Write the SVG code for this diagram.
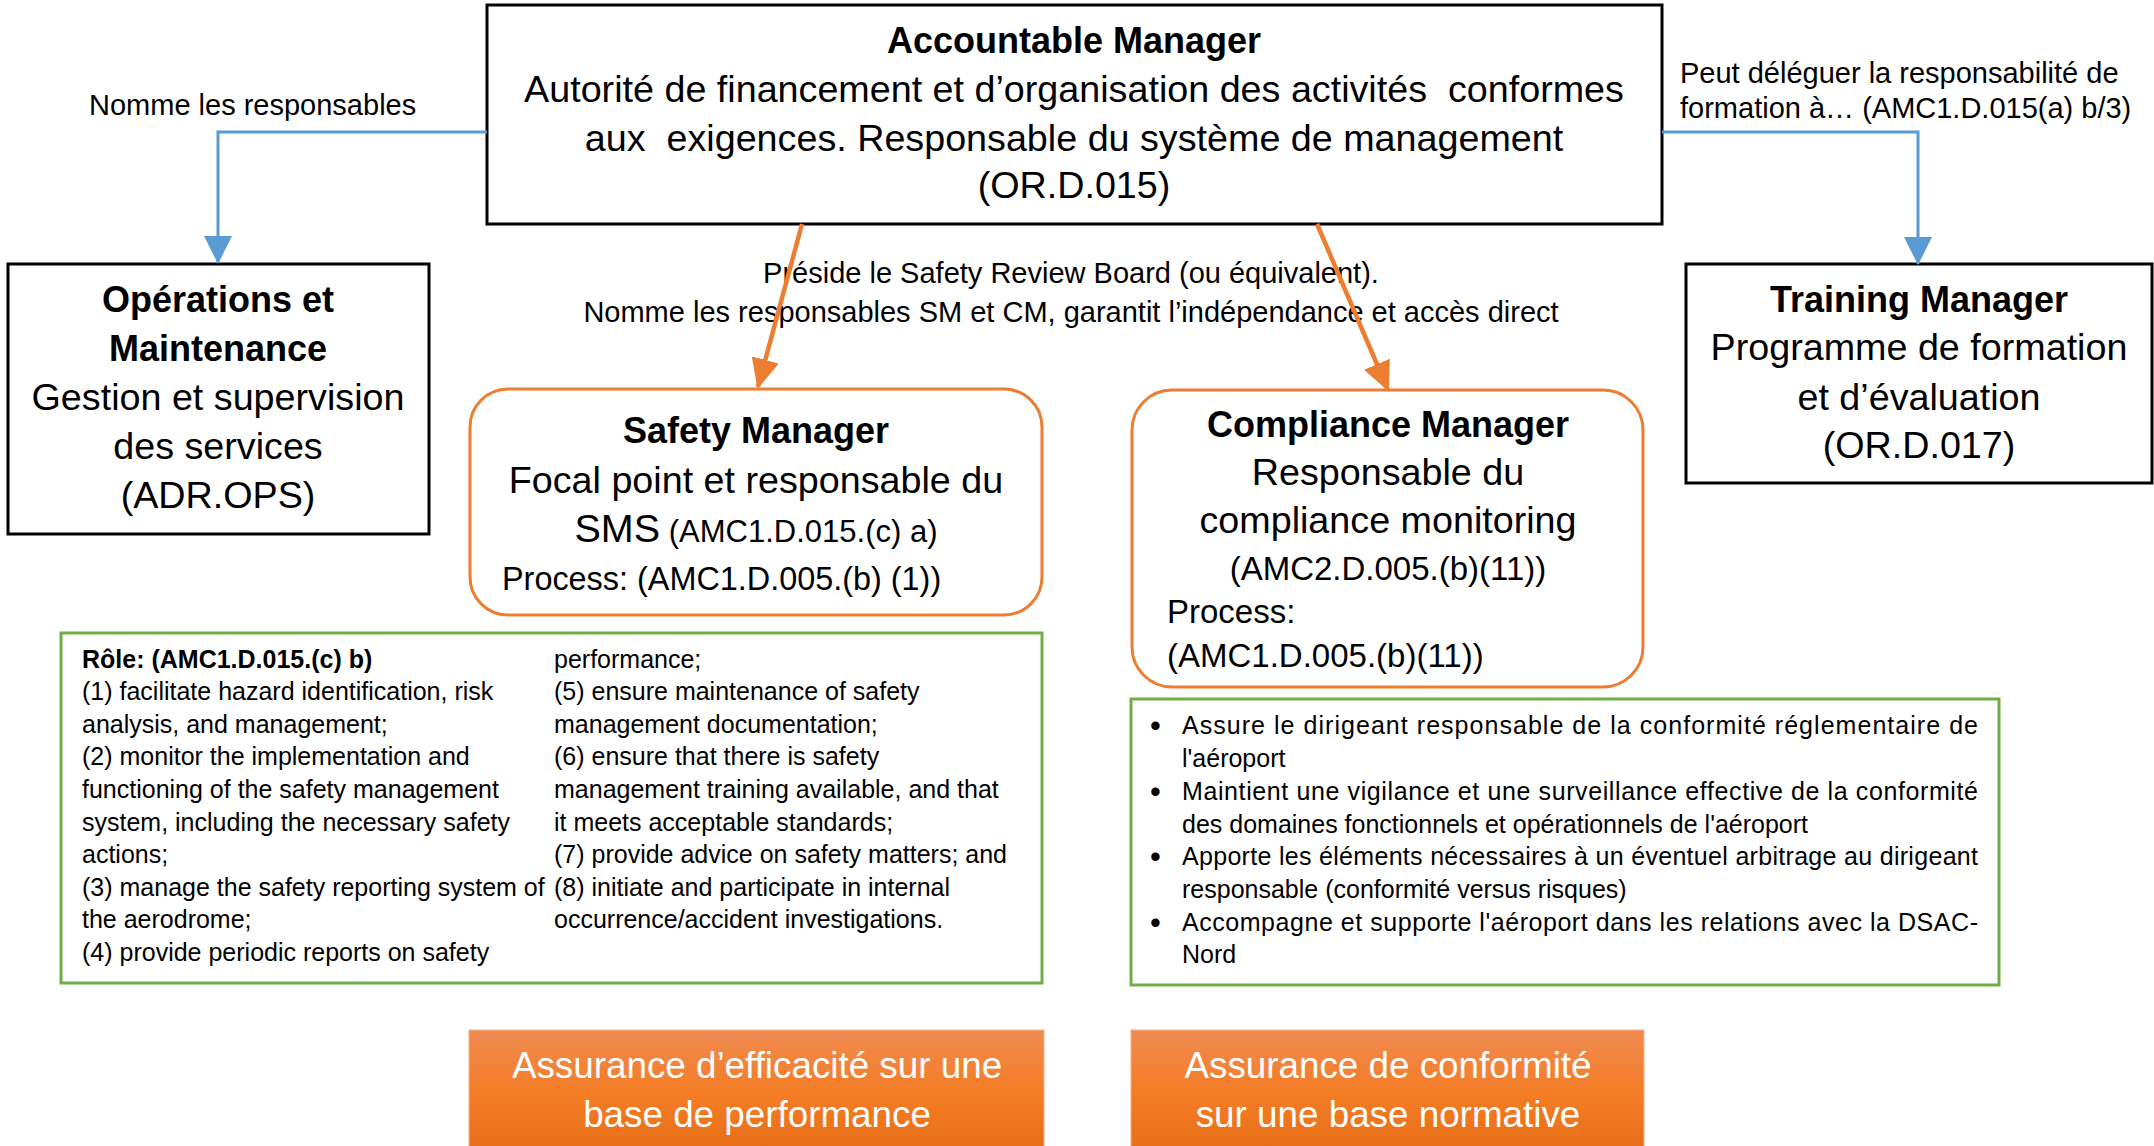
<svg xmlns="http://www.w3.org/2000/svg" width="2154" height="1146" viewBox="0 0 2154 1146">
<defs>
<style>
text{font-family:"Liberation Sans",Arial,sans-serif;fill:#000}
.box{fill:#fff;stroke:#000;stroke-width:3}
.rbox{fill:#fff;stroke:#ed7d31;stroke-width:3}
.gbox{fill:#fff;stroke:#70ad47;stroke-width:3}
.t{font-size:37.7px;text-anchor:middle}
.b{font-weight:bold;font-size:36px}
.lbl{font-size:29px}
.sm{font-size:25px}
.bul{font-size:31px}
.ref{font-size:33px}
.wt{font-size:36.8px;fill:#fff;text-anchor:middle}
.blue{fill:none;stroke:#5b9bd5;stroke-width:3}
.org{fill:none;stroke:#ed7d31;stroke-width:4.5}
</style>
<marker id="ab" markerUnits="userSpaceOnUse" markerWidth="28" markerHeight="28" viewBox="0 0 28 28" refX="27" refY="14" orient="auto">
<path d="M0,0 L28,14 L0,28 Z" fill="#5b9bd5"/>
</marker>
<marker id="ao" markerUnits="userSpaceOnUse" markerWidth="30" markerHeight="28" viewBox="0 0 30 28" refX="28" refY="14" orient="auto">
<path d="M0,0 L30,14 L0,28 Z" fill="#ed7d31"/>
</marker>
<linearGradient id="og" x1="0" y1="0" x2="0" y2="1">
<stop offset="0" stop-color="#f08b52"/>
<stop offset="0.5" stop-color="#f47c24"/>
<stop offset="1" stop-color="#e46c14"/>
</linearGradient>
</defs>
<rect width="2154" height="1146" fill="#fff"/>

<g id="accountable-manager">
<rect class="box" x="487" y="5" width="1175" height="219"/>
<text class="t b" x="1074" y="53">Accountable Manager</text>
<text class="t" x="1074" y="102" xml:space="preserve">Autorité de financement et d’organisation des activités  conformes</text>
<text class="t" x="1074" y="151" xml:space="preserve">aux  exigences. Responsable du système de management</text>
<text class="t" x="1074" y="198">(OR.D.015)</text>
</g>

<g id="operations-maintenance">
<rect class="box" x="8" y="264" width="421" height="270"/>
<text class="t b" x="218" y="312">Opérations et</text>
<text class="t b" x="218" y="361">Maintenance</text>
<text class="t" x="218" y="410">Gestion et supervision</text>
<text class="t" x="218" y="459">des services</text>
<text class="t" x="218" y="508">(ADR.OPS)</text>
</g>

<g id="training-manager">
<rect class="box" x="1686" y="264" width="466" height="219"/>
<text class="t b" x="1919" y="312">Training Manager</text>
<text class="t" x="1919" y="360">Programme de formation</text>
<text class="t" x="1919" y="410">et d’évaluation</text>
<text class="t" x="1919" y="458">(OR.D.017)</text>
</g>

<g id="safety-manager">
<rect class="rbox" x="470" y="389" width="572" height="226" rx="38" ry="38"/>
<text class="t b" x="756" y="443">Safety Manager</text>
<text class="t" x="756" y="493">Focal point et responsable du</text>
<text class="t" x="756" y="542"><tspan font-size="39.5px">SMS</tspan><tspan font-size="31px"> (AMC1.D.015.(c) a)</tspan></text>
<text x="502" y="590" font-size="32.4px">Process: (AMC1.D.005.(b) (1))</text>
</g>

<g id="compliance-manager">
<rect class="rbox" x="1132" y="390" width="511" height="297" rx="40" ry="40"/>
<text class="t b" x="1388" y="437">Compliance Manager</text>
<text class="t" x="1388" y="485">Responsable du</text>
<text class="t" x="1388" y="533">compliance monitoring</text>
<text class="ref" x="1388" y="580" text-anchor="middle">(AMC2.D.005.(b)(11))</text>
<text class="ref" x="1167" y="623">Process:</text>
<text class="ref" x="1167" y="667">(AMC1.D.005.(b)(11))</text>
</g>

<g id="safety-manager-role">
<rect class="gbox" x="61" y="633" width="981" height="350"/>
<text class="sm" x="82" y="668" font-weight="bold">Rôle: (AMC1.D.015.(c) b)</text>
<text class="sm" x="82" y="700">(1) facilitate hazard identification, risk</text>
<text class="sm" x="82" y="733">analysis, and management;</text>
<text class="sm" x="82" y="765">(2) monitor the implementation and</text>
<text class="sm" x="82" y="798">functioning of the safety management</text>
<text class="sm" x="82" y="831">system, including the necessary safety</text>
<text class="sm" x="82" y="863">actions;</text>
<text class="sm" x="82" y="896">(3) manage the safety reporting system of</text>
<text class="sm" x="82" y="928">the aerodrome;</text>
<text class="sm" x="82" y="961">(4) provide periodic reports on safety</text>
<text class="sm" x="554" y="668">performance;</text>
<text class="sm" x="554" y="700">(5) ensure maintenance of safety</text>
<text class="sm" x="554" y="733">management documentation;</text>
<text class="sm" x="554" y="765">(6) ensure that there is safety</text>
<text class="sm" x="554" y="798">management training available, and that</text>
<text class="sm" x="554" y="831">it meets acceptable standards;</text>
<text class="sm" x="554" y="863">(7) provide advice on safety matters; and</text>
<text class="sm" x="554" y="896">(8) initiate and participate in internal</text>
<text class="sm" x="554" y="928">occurrence/accident investigations.</text>
</g>

<g id="compliance-manager-role">
<rect class="gbox" x="1131" y="699" width="868" height="286"/>
<text class="bul" x="1150" y="736">•</text>
<text class="sm" x="1182" y="734" textLength="796" lengthAdjust="spacing">Assure le dirigeant responsable de la conformité réglementaire de</text>
<text class="sm" x="1182" y="767">l'aéroport</text>
<text class="bul" x="1150" y="802">•</text>
<text class="sm" x="1182" y="800" textLength="796" lengthAdjust="spacing">Maintient une vigilance et une surveillance effective de la conformité</text>
<text class="sm" x="1182" y="833">des domaines fonctionnels et opérationnels de l'aéroport</text>
<text class="bul" x="1150" y="867">•</text>
<text class="sm" x="1182" y="865" textLength="796" lengthAdjust="spacing">Apporte les éléments nécessaires à un éventuel arbitrage au dirigeant</text>
<text class="sm" x="1182" y="898">responsable (conformité versus risques)</text>
<text class="bul" x="1150" y="933">•</text>
<text class="sm" x="1182" y="931" textLength="796" lengthAdjust="spacing">Accompagne et supporte l'aéroport dans les relations avec la DSAC-</text>
<text class="sm" x="1182" y="963">Nord</text>
</g>

<g id="assurance-efficacite">
<rect x="469" y="1030" width="575" height="130" fill="url(#og)" stroke="#f4b183" stroke-width="1"/>
<text class="wt" x="757" y="1078">Assurance d’efficacité sur une</text>
<text class="wt" x="757" y="1127">base de performance</text>
</g>

<g id="assurance-conformite">
<rect x="1131" y="1030" width="513" height="130" fill="url(#og)" stroke="#f4b183" stroke-width="1"/>
<text class="wt" x="1388" y="1078">Assurance de conformité</text>
<text class="wt" x="1388" y="1127">sur une base normative</text>
</g>

<g id="labels">
<text class="lbl" x="89" y="115">Nomme les responsables</text>
<text class="lbl" x="1680" y="83">Peut déléguer la responsabilité de</text>
<text class="lbl" x="1680" y="118">formation à… (AMC1.D.015(a) b/3)</text>
<text class="lbl" x="1071" y="283" text-anchor="middle">Préside le Safety Review Board (ou équivalent).</text>
<text class="lbl" x="1071" y="322" text-anchor="middle">Nomme les responsables SM et CM, garantit l’indépendance et accès direct</text>
</g>

<g id="connectors">
<path class="blue" d="M487,132 H218 V263" marker-end="url(#ab)"/>
<path class="blue" d="M1662,132 H1918 V264" marker-end="url(#ab)"/>
<path class="org" d="M802,224 L758,387" marker-end="url(#ao)"/>
<path class="org" d="M1317,224 L1388,390" marker-end="url(#ao)"/>
</g>
</svg>
